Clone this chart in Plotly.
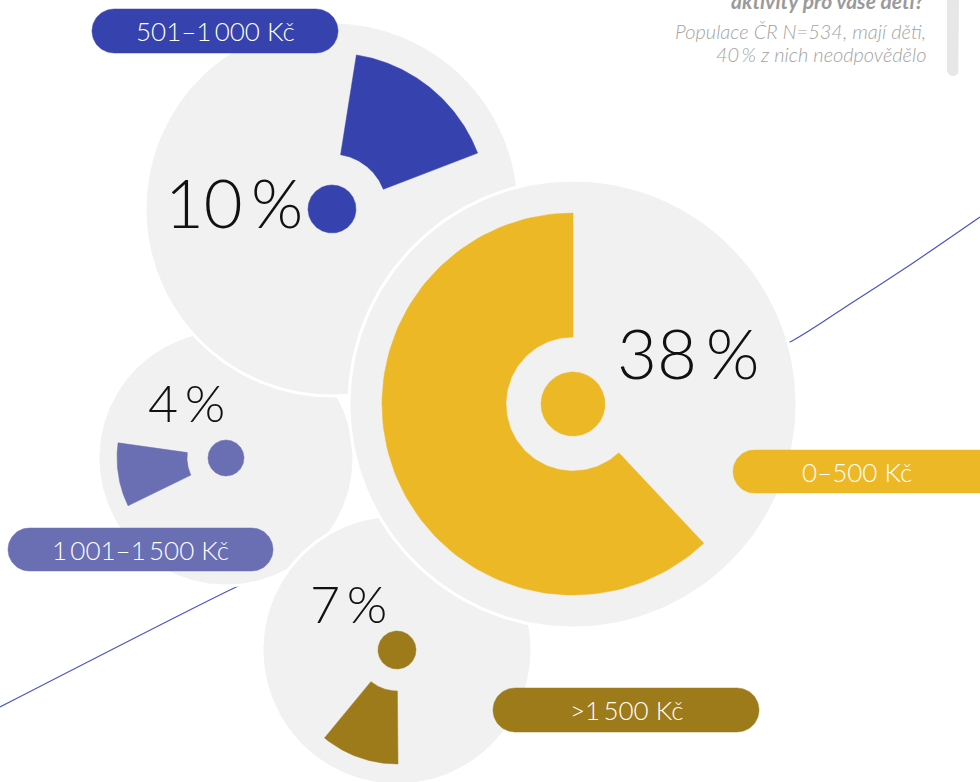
import numpy as np
import plotly.graph_objects as go

# ---------------- data ----------------
categories = ["0–500 Kč", "501–1\u2009000 Kč", "1\u2009001–1\u2009500 Kč", ">1\u2009500 Kč"]
share_pct = [38, 10, 4, 7]
wedge_start_deg = [136.8, 9.0, 244.0, 179.5]
wedge_end_deg = [360.0, 69.0, 278.0, 219.5]
colors = ["#EDB826", "#3642AE", "#6A6EB2", "#9D7A1A"]

subtitle_lines = ["Populace ČR N=534, mají děti,", "40\u2009% z nich neodpovědělo"]
title_tail = "aktivity pro vaše děti?"

# ---------------- layout helpers (pixel positions) ----------------
geo = {
    0: dict(cx=573, cy=404, R=224, dot=32, rin=67, rout=191, lx=688, ly=352, fs=69),
    1: dict(cx=332, cy=209, R=187, dot=24, rin=55, rout=156, lx=234, ly=202, fs=67),
    2: dict(cx=226, cy=458, R=128, dot=18, rin=39, rout=109, lx=186, ly=402, fs=52),
    3: dict(cx=397, cy=650, R=135, dot=19, rin=41, rout=114, lx=348, ly=603, fs=52),
}
pills = {
    0: dict(x0=733, x1=1005, y0=450, y1=493, tx=857),
    1: dict(x0=92, x1=338, y0=9, y1=53, tx=215),
    2: dict(x0=8, x1=273, y0=528, y1=571, tx=140),
    3: dict(x0=493, x1=759, y0=688, y1=732, tx=626),
}
draw_order = [2, 1, 3, 0]

GRAY = "#F1F1F1"
FONT = "Lato"


def circle(cx, cy, r, n=240):
    t = np.linspace(0, 2 * np.pi, n)
    return cx + r * np.sin(t), cy - r * np.cos(t)


def wedge(cx, cy, rin, rout, a0, a1, n=120):
    t = np.radians(np.linspace(a0, a1, n))
    xo, yo = cx + rout * np.sin(t), cy - rout * np.cos(t)
    xi, yi = cx + rin * np.sin(t[::-1]), cy - rin * np.cos(t[::-1])
    return np.r_[xo, xi, xo[0]], np.r_[yo, yi, yo[0]]


def pill(x0, x1, y0, y1, n=40):
    r = (y1 - y0) / 2
    cy = (y0 + y1) / 2
    t1 = np.linspace(0, np.pi, n)
    xr = (x1 - r) + r * np.sin(t1)
    yr = cy - r * np.cos(t1)
    t2 = np.linspace(np.pi, 2 * np.pi, n)
    xl = (x0 + r) + r * np.sin(t2)
    yl = cy - r * np.cos(t2)
    return np.r_[xr, xl, xr[0]], np.r_[yr, yl, yr[0]]


def vpill(x0, x1, y0, y1, n=40):
    r = (x1 - x0) / 2
    cx = (x0 + x1) / 2
    t = np.linspace(np.pi / 2, 3 * np.pi / 2, n)
    xb = cx + r * np.sin(t)
    yb = (y1 - r) - r * np.cos(t)
    return np.r_[x1, xb, x0, x1], np.r_[y0, yb, y0, y0]


fig = go.Figure()

# decorative thin line (behind circles)
line_x = [0, 232, 400, 792, 850, 910, 980]
line_y = [707, 589, 512, 341, 304, 265, 217]
fig.add_trace(go.Scatter(x=line_x, y=line_y, mode="lines", line_shape="spline",
                         line=dict(color="#4B55C2", width=1.2, smoothing=0.6), hoverinfo="skip"))

# gray vertical bar top right
vx, vy = vpill(947, 959, -5, 76)
fig.add_trace(go.Scatter(x=vx, y=vy, mode="lines", fill="toself", fillcolor="#E7E7E7",
                         line=dict(width=0, color="#E7E7E7"), hoverinfo="skip"))

for i in draw_order:
    g = geo[i]
    cx_, cy_ = circle(g["cx"], g["cy"], g["R"])
    fig.add_trace(go.Scatter(x=cx_, y=cy_, mode="lines", fill="toself", fillcolor=GRAY,
                             line=dict(color="white", width=3), hoverinfo="skip"))
    wx, wy = wedge(g["cx"], g["cy"], g["rin"], g["rout"], wedge_start_deg[i], wedge_end_deg[i])
    fig.add_trace(go.Scatter(x=wx, y=wy, mode="lines", fill="toself", fillcolor=colors[i],
                             line=dict(color=colors[i], width=0.5), hoverinfo="skip"))
    dx, dy = circle(g["cx"], g["cy"], g["dot"])
    fig.add_trace(go.Scatter(x=dx, y=dy, mode="lines", fill="toself", fillcolor=colors[i],
                             line=dict(color=colors[i], width=0.5), hoverinfo="skip"))

# pills
for i in range(4):
    p = pills[i]
    px, py = pill(p["x0"], p["x1"], p["y0"], p["y1"])
    fig.add_trace(go.Scatter(x=px, y=py, mode="lines", fill="toself", fillcolor=colors[i],
                             line=dict(color=colors[i], width=0.5), hoverinfo="skip"))
    fig.add_annotation(x=p["tx"], y=(p["y0"] + p["y1"]) / 2, text=categories[i],
                       showarrow=False, xanchor="center", yanchor="middle",
                       font=dict(family=FONT, size=26, color="white", weight=300))

# percentage labels
for i in range(4):
    g = geo[i]
    fig.add_annotation(x=g["lx"], y=g["ly"], text=f"{share_pct[i]}\u2009%",
                       showarrow=False, xanchor="center", yanchor="middle",
                       font=dict(family=FONT, size=g["fs"], color="#111111", weight=300))

# top-right texts
fig.add_annotation(x=926, y=0, text=title_tail, showarrow=False, xanchor="right",
                   yanchor="middle",
                   font=dict(family=FONT, size=21, color="#9A9A9A", weight=700, style="italic"))
for k, t in enumerate(subtitle_lines):
    fig.add_annotation(x=928, y=31 + 23 * k, text=t, showarrow=False, xanchor="right",
                       yanchor="middle",
                       font=dict(family=FONT, size=20, color="#A3A3A3", weight=300, style="italic"))

fig.update_layout(
    width=980, height=782, margin=dict(l=0, r=0, t=0, b=0),
    paper_bgcolor="white", plot_bgcolor="white", showlegend=False,
    xaxis=dict(range=[0, 980], visible=False, fixedrange=True),
    yaxis=dict(range=[782, 0], visible=False, fixedrange=True),
)

fig.write_html("out.html", config={"displayModeBar": False},
               post_script="document.body.style.margin='0';document.body.style.overflow='hidden';")
